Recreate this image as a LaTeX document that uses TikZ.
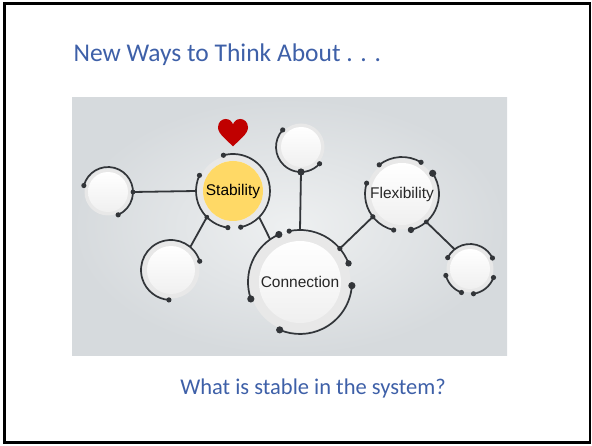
\documentclass[tikz,border=0pt]{standalone}
\usepackage{fontspec}
\setmainfont{Carlito}
\newfontfamily\arialfont{Liberation Sans}
\usepackage{xcolor}
\usepackage{tikz}
\usetikzlibrary{positioning}
\usetikzlibrary{calc}
\definecolor{titleblue}{RGB}{62,96,168}
\definecolor{hubyellow}{RGB}{255,217,102}
\definecolor{heartred}{RGB}{192,0,0}
\definecolor{ringgray}{RGB}{50,53,57}
\definecolor{bginner}{RGB}{238,240,241}
\definecolor{bgouter}{RGB}{214,218,221}
\tikzstyle{hub}=[circle,inner sep=0pt,outer sep=0pt,font=\arialfont\fontsize{15.5}{16}\selectfont,text=black!85]
\tikzstyle{hubfill}=[circle,inner sep=0pt,outer sep=0pt,draw=none,top color=white,bottom color=black!6]
\tikzstyle{halo}=[fill=black!9]
\tikzstyle{ringarc}=[draw=ringgray,line width=1.7pt]
\tikzstyle{link}=[draw=ringgray,line width=1.8pt]
\tikzstyle{dot}=[fill=ringgray]

\begin{document}
\begin{tikzpicture}[x=1pt,y=1pt]

  \useasboundingbox (0,0) rectangle (592,445);
  \draw[line width=2.5pt] (4.7,2.3) rectangle (590,441.7);

  \node[anchor=base west, text=titleblue, font=\fontsize{25.5}{30}\selectfont] (title) at (70,383) {New Ways to Think About . . .};

  \shade[inner color=bginner, outer color=bgouter] (72,90) rectangle (507,347);

  % hubs
  \foreach \x/\y/\f/\r/\name/\label in {108/253/20/25/lft/{}, 171/175/24/30/llft/{}, 233/254/30/37/stab/{},
          301/298/20/25/top/{}, 300/163/41/52/conn/Connection, 402/251/31/37/flex/Flexibility, 470/176/20/25/rsml/{}}
  {
     \fill[halo] (\x,\y) circle (\r pt-1.5pt);
     \node[hubfill, minimum size=2*\f pt] at (\x,\y) {};
     \node[hub, minimum size=2*\r pt] (\name) at (\x,\y) {\label};
  }

  \foreach \x/\y/\f/\r/\name/\label in {233/254/30/37/stab/Stability}
     \node[hub, fill=hubyellow, minimum size=2*\f pt, text=black] (stabin) at (\x,\y) {\label};

  % arcs with end dots
  \foreach \name/\r/\a/\b in {lft/25/165/-66, stab/37/105/-78, stab/37/155/262, llft/30/17/266,
          top/25/137/318, conn/52/102/21, conn/52/114/199, conn/52/-4/-113,
          flex/37/128/59, flex/37/34/-76, flex/37/163/257,
          rsml/25/153/26, rsml/25/195/250, rsml/25/278/340}
  {
     \draw[ringarc] (\name.center) ++(\a:\r pt) arc[start angle=\a, end angle=\b, radius=\r pt];
     \fill[dot] (\name.center) ++(\a:\r pt) circle (2.6pt);
     \fill[dot] (\name.center) ++(\b:\r pt) circle (2.6pt);
  }

  \foreach \source/ \dest in {stab.180/lft.0, stab.225/llft.50, stab.315/conn.125,
          top.270/conn.90, conn.40/flex.218, flex.311/rsml.128}
         \path[link] (\source) -- (\dest);

  % bigger dots
  \foreach \name/\r/\a/\s in {conn/52/114/3.6, conn/52/199/3.6, conn/52/-4/3.6, conn/52/-113/3.6,
          conn/52/21/3.2, flex/37/34/3.6, flex/37/-76/3.2, top/25/270/3.6,
          stab/37/225/2.4, conn/52/40/2.6, flex/37/218/2.6, flex/37/-49/2.4, lft/25/0/2.4}
     \fill[dot] (\name.center) ++(\a:\r pt) circle (\s pt);

  % heart
  \fill[heartred, shift={(233,312)}] (0,-13.5) .. controls (-6,-7) and (-15,-1) .. (-15,5.5)
        .. controls (-15,11) and (-11,14) .. (-7.5,14) .. controls (-4,14) and (-1,12) .. (0,8.5)
        .. controls (1,12) and (4,14) .. (7.5,14) .. controls (11,14) and (15,11) .. (15,5.5)
        .. controls (15,-1) and (6,-7) .. (0,-13.5) -- cycle;

  \node[anchor=base, text=titleblue, font=\fontsize{22.5}{27}\selectfont] (question) at (313,50.7) {What is stable in the system?};

\end{tikzpicture}
\end{document}
